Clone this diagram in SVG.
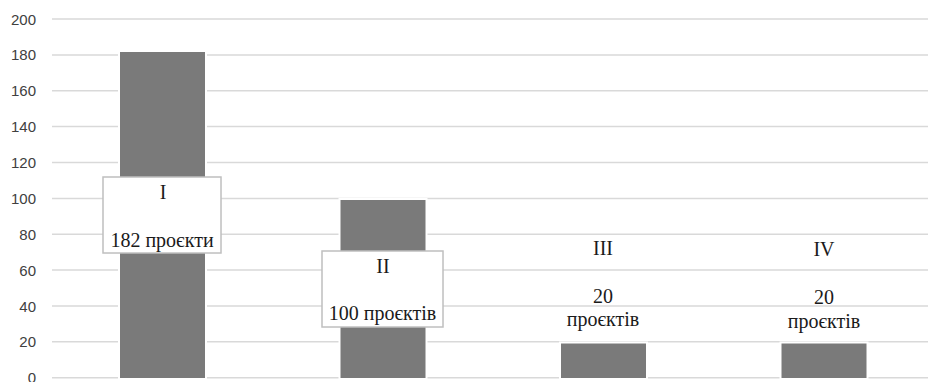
<svg xmlns="http://www.w3.org/2000/svg" width="928" height="382" viewBox="0 0 928 382">
<style>
.grid{stroke:#d9d9d9;stroke-width:1.5}
.ax{font-family:"Liberation Sans",Arial,sans-serif;font-size:15px;fill:#404040;text-anchor:end}
.bar{fill:#7a7a7a;stroke:#ffffff;stroke-width:2}
.box{fill:#ffffff;stroke:#bfbfbf;stroke-width:1.5}
.lbl{font-family:"Liberation Serif","DejaVu Serif","Noto Serif",serif;font-size:20px;fill:#1a1a1a;text-anchor:middle}
</style>
<rect width="928" height="382" fill="#ffffff"/>
<g id="gridlines">
<line class="grid" x1="52" y1="19" x2="928" y2="19"/>
<line class="grid" x1="52" y1="54.9" x2="928" y2="54.9"/>
<line class="grid" x1="52" y1="90.8" x2="928" y2="90.8"/>
<line class="grid" x1="52" y1="126.6" x2="928" y2="126.6"/>
<line class="grid" x1="52" y1="162.5" x2="928" y2="162.5"/>
<line class="grid" x1="52" y1="198.4" x2="928" y2="198.4"/>
<line class="grid" x1="52" y1="234.2" x2="928" y2="234.2"/>
<line class="grid" x1="52" y1="270.1" x2="928" y2="270.1"/>
<line class="grid" x1="52" y1="306" x2="928" y2="306"/>
<line class="grid" x1="52" y1="341.8" x2="928" y2="341.8"/>
<line class="grid" x1="52" y1="377.7" x2="928" y2="377.7"/>
</g>
<g id="axis-labels">
<text class="ax" x="36" y="24.5">200</text>
<text class="ax" x="36" y="60.4">180</text>
<text class="ax" x="36" y="96.3">160</text>
<text class="ax" x="36" y="132.1">140</text>
<text class="ax" x="36" y="168">120</text>
<text class="ax" x="36" y="203.9">100</text>
<text class="ax" x="36" y="239.7">80</text>
<text class="ax" x="36" y="275.6">60</text>
<text class="ax" x="36" y="311.5">40</text>
<text class="ax" x="36" y="347.3">20</text>
<text class="ax" x="36" y="383">0</text>
</g>
<g id="bar-I">
<rect class="bar" x="119" y="51" width="87" height="328"/>
</g>
<g id="bar-II">
<rect class="bar" x="339.5" y="199" width="87" height="180"/>
</g>
<g id="bar-III">
<rect class="bar" x="560" y="342.5" width="87" height="36.5"/>
</g>
<g id="bar-IV">
<rect class="bar" x="780.5" y="342.5" width="87" height="36.5"/>
</g>
<g id="label-I">
<rect class="box" x="103" y="177" width="118" height="76"/>
<text class="lbl" x="163" y="199">I</text>
<text class="lbl" x="162" y="247">182 проєкти</text>
</g>
<g id="label-II">
<rect class="box" x="322" y="251" width="121" height="76"/>
<text class="lbl" x="383" y="273">II</text>
<text class="lbl" x="382.5" y="320">100 проєктів</text>
</g>
<g id="label-III">
<text class="lbl" x="603" y="255">III</text>
<text class="lbl" x="603" y="303">20</text>
<text class="lbl" x="603" y="326">проєктів</text>
</g>
<g id="label-IV">
<text class="lbl" x="824" y="256">IV</text>
<text class="lbl" x="824" y="304">20</text>
<text class="lbl" x="824" y="328">проєктів</text>
</g>
</svg>
